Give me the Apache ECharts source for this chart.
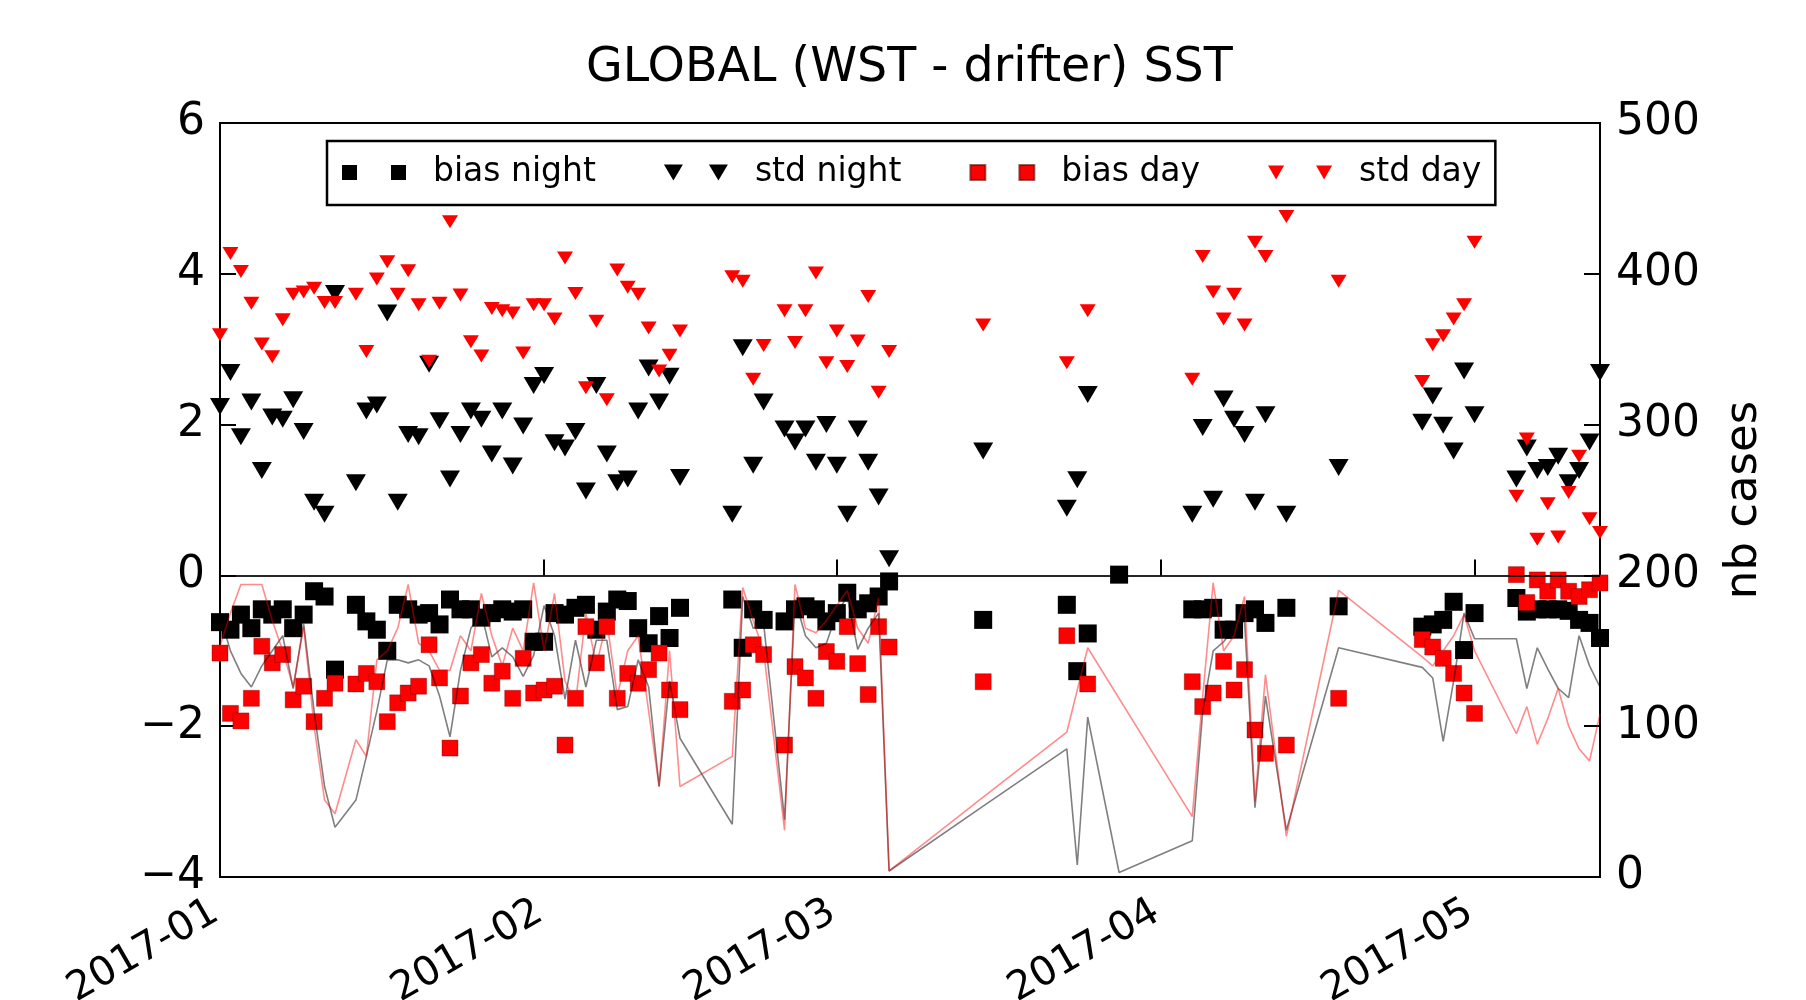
<!DOCTYPE html>
<html>
<head>
<meta charset="utf-8">
<script src="https://cdn.jsdelivr.net/npm/echarts@6/dist/echarts.min.js"></script>
<style>
html,body{margin:0;padding:0;background:#fff;}
#chart{width:1806px;height:1000px;}
</style>
</head>
<body>
<div id="chart"></div>
<script>
// ---- data ----
const dates = [
  '2017-01-01','2017-01-02','2017-01-03','2017-01-04','2017-01-05','2017-01-06','2017-01-07','2017-01-08','2017-01-09','2017-01-10','2017-01-11','2017-01-12',
  '2017-01-14','2017-01-15','2017-01-16','2017-01-17','2017-01-18','2017-01-19','2017-01-20','2017-01-21','2017-01-22','2017-01-23','2017-01-24','2017-01-25','2017-01-26','2017-01-27','2017-01-28','2017-01-29','2017-01-30','2017-01-31',
  '2017-02-01','2017-02-02','2017-02-03','2017-02-04','2017-02-05','2017-02-06','2017-02-07','2017-02-08','2017-02-09','2017-02-10','2017-02-11','2017-02-12','2017-02-13','2017-02-14',
  '2017-02-19','2017-02-20','2017-02-21','2017-02-22',
  '2017-02-24','2017-02-25','2017-02-26','2017-02-27','2017-02-28','2017-03-01','2017-03-02','2017-03-03','2017-03-04','2017-03-05','2017-03-06',
  '2017-03-15','2017-03-23','2017-03-24','2017-03-25','2017-03-28',
  '2017-04-04','2017-04-05','2017-04-06','2017-04-07','2017-04-08','2017-04-09','2017-04-10','2017-04-11',
  '2017-04-13','2017-04-18',
  '2017-04-26','2017-04-27','2017-04-28','2017-04-29','2017-04-30','2017-05-01',
  '2017-05-05','2017-05-06','2017-05-07','2017-05-08','2017-05-09','2017-05-10','2017-05-11','2017-05-12','2017-05-13'
];

const biasNight = [
  -0.62,-0.72,-0.52,-0.70,-0.45,-0.52,-0.45,-0.70,-0.52,-0.21,-0.28,-1.25,
  -0.39,-0.61,-0.72,-1.00,-0.39,-0.45,-0.52,-0.50,-0.65,-0.32,-0.45,-0.45,-0.56,-0.50,-0.45,-0.48,-0.45,-0.88,
  -0.88,-0.50,-0.52,-0.43,-0.39,-0.72,-0.48,-0.32,-0.34,-0.70,-0.90,-0.54,-0.83,-0.43,
  -0.32,-0.96,-0.45,-0.59,
  -0.61,-0.45,-0.41,-0.45,-0.61,-0.50,-0.23,-0.45,-0.37,-0.28,-0.08,
  -0.59,-0.39,-1.27,-0.77,0.01,
  -0.45,-0.45,-0.43,-0.72,-0.72,-0.50,-0.45,-0.63,
  -0.43,-0.41,
  -0.68,-0.65,-0.59,-0.35,-0.99,-0.50,
  -0.30,-0.48,-0.45,-0.45,-0.45,-0.47,-0.59,-0.63,-0.83
];

const stdNight = [
  2.24,2.69,1.84,2.30,1.39,2.10,2.07,2.33,1.91,0.97,0.81,3.74,
  1.23,2.18,2.26,3.48,0.97,1.87,1.84,2.80,2.05,1.28,1.87,2.18,2.07,1.61,2.18,1.45,1.98,2.52,
  2.65,1.76,1.69,1.91,1.12,2.52,1.61,1.23,1.28,2.18,2.75,2.30,2.64,1.30,
  0.81,3.02,1.46,2.30,
  1.94,1.77,1.94,1.50,2.00,1.46,0.81,1.94,1.50,1.04,0.22,
  1.65,0.89,1.27,2.40,null,
  0.81,1.96,1.01,2.34,2.07,1.87,0.97,2.13,
  0.81,1.43,
  2.03,2.38,1.99,1.65,2.71,2.13,
  1.28,1.69,1.39,1.43,1.58,1.23,1.39,1.77,2.69
];

const biasDay = [
  -1.03,-1.83,-1.93,-1.63,-0.94,-1.16,-1.05,-1.65,-1.47,-1.94,-1.63,-1.43,
  -1.44,-1.30,-1.41,-1.94,-1.69,-1.56,-1.47,-0.92,-1.36,-2.29,-1.60,-1.16,-1.05,-1.43,-1.27,-1.63,-1.10,-1.56,
  -1.52,-1.47,-2.25,-1.63,-0.68,-1.16,-0.68,-1.63,-1.30,-1.43,-1.25,-1.03,-1.52,-1.78,
  -1.67,-1.52,-0.92,-1.05,
  -2.25,-1.21,-1.36,-1.63,-1.01,-1.14,-0.68,-1.17,-1.58,-0.68,-0.95,
  -1.41,-0.80,null,-1.44,null,
  -1.41,-1.74,-1.56,-1.14,-1.52,-1.25,-2.05,-2.36,
  -2.25,-1.63,
  -0.85,-0.95,-1.10,-1.30,-1.56,-1.83,
  0.01,-0.36,-0.06,-0.21,-0.06,-0.21,-0.28,-0.19,-0.10
];

const stdDay = [
  3.19,4.27,4.03,3.61,3.07,2.90,3.39,3.73,3.76,3.81,3.62,3.62,
  3.73,2.97,3.93,4.16,3.73,4.04,3.59,2.84,3.61,4.69,3.72,3.10,2.91,3.54,3.51,3.48,2.95,3.59,
  3.59,3.40,4.21,3.74,2.49,3.37,2.33,4.05,3.82,3.73,3.28,2.71,2.92,3.24,
  3.96,3.90,2.60,3.05,
  3.51,3.09,3.51,4.01,2.82,3.24,2.77,3.11,3.70,2.43,2.97,
  3.32,2.82,null,3.51,null,
  2.60,4.23,3.76,3.40,3.73,3.32,4.42,4.23,
  4.76,3.90,
  2.57,3.06,3.18,3.40,3.59,4.42,
  1.05,1.81,0.48,0.95,0.51,1.10,1.58,0.75,0.57
];

const nbNight = [
  173,150,135,126,140,150,160,125,168,110,60,33,
  51,80,110,144,144,142,144,140,120,93,137,165,175,146,152,146,133,147,
  180,160,118,157,126,157,157,111,113,144,126,60,130,92,
  35,186,165,168,
  38,184,160,152,155,175,186,151,165,175,4,
  47,85,8,106,3,
  24,110,150,156,165,170,46,120,
  31,152,
  139,132,90,130,175,158,
  158,125,152,138,125,119,160,140,126
];

const nbDay = [
  153,175,194,194,194,170,150,126,166,100,51,42,
  91,80,144,150,165,194,155,150,137,137,160,150,188,160,140,165,150,195,
  150,188,130,115,175,140,170,120,150,160,110,60,150,60,
  80,192,170,150,
  31,194,165,162,170,180,190,165,155,185,4,
  53,96,null,152,null,
  40,120,195,150,160,186,50,134,
  27,190,
  146,140,150,160,174,150,
  95,113,88,105,125,100,85,77,108
];

const monthTicks = ['2017-01-01','2017-02-01','2017-03-01','2017-04-01','2017-05-01'];
const xMin = '2017-01-01';
const xMax = '2017-05-13';

// ---- chart ----
const FONT = 'DejaVu Sans';
function toTime(s) {
  const p = s.split('-').map(Number);
  return Date.UTC(p[0], p[1] - 1, p[2]);
}
function pairs(arr) {
  return dates.map((d, i) => [toTime(d), arr[i]]).filter(p => p[1] !== null);
}
const tickTimes = monthTicks.map(toTime);

const sqIcon = 'path://M0,0h15v15h-15zM49,0h15v15h-15z';
const triIconBig = 'path://M0,0h19l-9.5,16zM45,0h19l-9.5,16z';
const triIconSmall = 'path://M2,0h15l-7.5,13zM47,0h15l-7.5,13z';

const chart = echarts.init(document.getElementById('chart'), null, {renderer: 'canvas'});
chart.setOption({
  animation: false,
  backgroundColor: '#fff',
  title: {
    text: 'GLOBAL (WST - drifter) SST',
    left: 586,
    top: 45,
    padding: 0,
    textStyle: {fontFamily: FONT, fontSize: 47.5, fontWeight: 'normal', color: '#000'}
  },
  legend: {
    data: [
      {name: 'bias night', icon: sqIcon},
      {name: 'std night', icon: triIconBig},
      {name: 'bias day', icon: sqIcon},
      {name: 'std day', icon: triIconSmall}
    ],
    left: 327,
    top: 141,
    itemWidth: 64,
    itemHeight: 16,
    itemGap: 68,
    padding: [15, 14, 16, 15],
    borderColor: '#000',
    borderWidth: 2.5,
    backgroundColor: '#fff',
    selectedMode: false,
    z: 10,
    textStyle: {fontFamily: FONT, fontSize: 33, color: '#000', padding: [0, 0, 0, 22]}
  },
  grid: {
    left: 220, top: 123, width: 1380, height: 754,
    outerBoundsMode: 'none',
    containLabel: false,
    show: true, borderColor: '#000', borderWidth: 2, backgroundColor: 'transparent'
  },
  xAxis: {
    type: 'value',
    min: toTime(xMin),
    max: toTime(xMax),
    axisLine: {show: false},
    splitLine: {show: false},
    axisTick: {show: true, inside: true, length: 16, lineStyle: {color: '#000', width: 2}, customValues: tickTimes},
    axisLabel: {
      customValues: tickTimes,
      rotate: 30,
      margin: 30,
      padding: [0, 5, 0, 0],
      fontFamily: FONT, fontSize: 40, color: '#000',
      formatter: function (v) {
        const d = new Date(v);
        return d.getUTCFullYear() + '-' + String(d.getUTCMonth() + 1).padStart(2, '0');
      }
    }
  },
  yAxis: [
    {
      type: 'value', min: -4, max: 6, interval: 2, position: 'left',
      axisLine: {show: false}, splitLine: {show: false},
      axisTick: {show: true, inside: true, length: 16, lineStyle: {color: '#000', width: 2}},
      axisLabel: {margin: 15, fontFamily: FONT, fontSize: 44, color: '#000',
        formatter: v => String(v).replace('-', '\u2212')}
    },
    {
      type: 'value', min: 0, max: 500, interval: 100, position: 'right',
      name: 'nb cases', nameLocation: 'middle', nameRotate: 90, nameGap: 122,
      nameTextStyle: {fontFamily: FONT, fontSize: 45, color: '#000'},
      axisLine: {show: false}, splitLine: {show: false},
      axisTick: {show: true, inside: true, length: 16, lineStyle: {color: '#000', width: 2}},
      axisLabel: {margin: 16, fontFamily: FONT, fontSize: 44, color: '#000'}
    }
  ],
  series: [
    {
      name: 'bias night', type: 'scatter', yAxisIndex: 0, clip: true,
      symbol: 'rect', symbolSize: 18,
      itemStyle: {color: '#000', opacity: 1},
      data: pairs(biasNight), z: 2,
      markLine: {
        silent: true, symbol: ['none', 'none'], label: {show: false},
        lineStyle: {color: '#000', width: 2, type: 'solid', opacity: 0.85},
        data: [{yAxis: 0}]
      }
    },
    {
      name: 'std night', type: 'scatter', yAxisIndex: 0, clip: true,
      symbol: 'triangle', symbolRotate: 180, symbolSize: [20, 17],
      itemStyle: {color: '#000', opacity: 1},
      data: pairs(stdNight), z: 2
    },
    {
      name: 'bias day', type: 'scatter', yAxisIndex: 0, clip: true,
      symbol: 'rect', symbolSize: 16,
      itemStyle: {color: '#ff0000', opacity: 1, borderColor: 'rgba(90,0,0,0.6)', borderWidth: 0.6},
      data: pairs(biasDay), z: 3
    },
    {
      name: 'std day', type: 'scatter', yAxisIndex: 0, clip: true,
      symbol: 'triangle', symbolRotate: 180, symbolSize: [16, 13],
      itemStyle: {color: '#ff0000', opacity: 1},
      data: pairs(stdDay), z: 3
    },
    {
      name: 'nb night', type: 'line', yAxisIndex: 1, showSymbol: false, symbol: 'none',
      connectNulls: true, clip: true,
      lineStyle: {color: 'rgba(0,0,0,0.5)', width: 1.6},
      itemStyle: {color: 'rgba(0,0,0,0.5)'},
      data: pairs(nbNight), z: 4
    },
    {
      name: 'nb day', type: 'line', yAxisIndex: 1, showSymbol: false, symbol: 'none',
      connectNulls: true, clip: true,
      lineStyle: {color: 'rgba(255,0,0,0.45)', width: 1.6},
      itemStyle: {color: 'rgba(255,0,0,0.45)'},
      data: pairs(nbDay), z: 4
    }
  ]
});
</script>
</body>
</html>
